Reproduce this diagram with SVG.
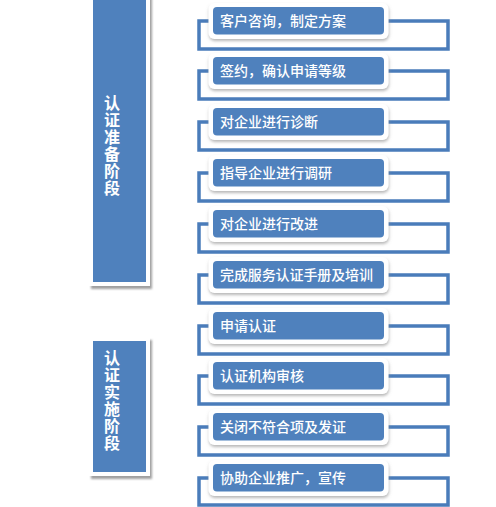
<svg xmlns="http://www.w3.org/2000/svg" width="496" height="507" viewBox="0 0 496 507">
<defs>
<filter id="sh" x="-10%" y="-20%" width="120%" height="150%">
<feDropShadow dx="0.5" dy="2" stdDeviation="1.5" flood-color="#888" flood-opacity="0.6"/>
</filter>
<filter id="shb" x="-20%" y="-10%" width="140%" height="120%">
<feDropShadow dx="2" dy="3" stdDeviation="1.2" flood-color="#777" flood-opacity="0.7"/>
</filter>
</defs>
<style>
.conn{fill:none;stroke:#4a7cba;stroke-width:3.5;stroke-linejoin:miter}
.frame{fill:#fff;filter:url(#sh)}
.box{fill:#4f81bd}
.lbl{fill:#fff;font-family:"Noto Sans CJK SC","Noto Sans",sans-serif;font-size:14px;font-weight:500}
.bar{fill:#4f81bd}
.barframe{fill:#fff;filter:url(#shb)}
.vt{fill:#fff;font-family:"Noto Sans CJK SC",sans-serif;font-size:16px;font-weight:bold;writing-mode:vertical-rl;letter-spacing:1px}
</style>
<rect width="496" height="507" fill="#fff"/>
<g id="stage1">
<rect class="barframe" x="89" y="-6" width="61" height="292"/>
<rect class="bar" x="93" y="-6" width="53" height="288"/>
<text class="vt" x="112" y="95">认证准备阶段</text>
</g>
<g id="stage2">
<rect class="barframe" x="89" y="337" width="61" height="139"/>
<rect class="bar" x="93" y="341" width="53" height="131"/>
<text class="vt" x="112" y="350">认证实施阶段</text>
</g>
<g id="connectors">
<path class="conn" d="M210,21 H199 V49 H448 V21 H388"/>
<path class="conn" d="M210,71 H199 V99 H448 V71 H388"/>
<path class="conn" d="M210,122 H199 V150 H448 V122 H388"/>
<path class="conn" d="M210,173 H199 V201 H448 V173 H388"/>
<path class="conn" d="M210,224 H199 V252 H448 V224 H388"/>
<path class="conn" d="M210,275 H199 V303 H448 V275 H388"/>
<path class="conn" d="M210,326 H199 V354 H448 V326 H388"/>
<path class="conn" d="M210,376 H199 V404 H448 V376 H388"/>
<path class="conn" d="M210,427 H199 V455 H448 V427 H388"/>
<path class="conn" d="M210,478 H199 V505 H448 V478 H388"/>
</g>
<g id="n1"><rect class="frame" x="208.5" y="3" width="180" height="36" rx="6"/><rect class="box" x="213" y="7" width="171" height="27.5" rx="4"/><text class="lbl" x="220" y="26">客户咨询，制定方案</text></g>
<g id="n2"><rect class="frame" x="208.5" y="53" width="180" height="36" rx="6"/><rect class="box" x="213" y="57" width="171" height="27.5" rx="4"/><text class="lbl" x="220" y="76">签约，确认申请等级</text></g>
<g id="n3"><rect class="frame" x="208.5" y="104" width="180" height="36" rx="6"/><rect class="box" x="213" y="108" width="171" height="27.5" rx="4"/><text class="lbl" x="220" y="127">对企业进行诊断</text></g>
<g id="n4"><rect class="frame" x="208.5" y="155" width="180" height="36" rx="6"/><rect class="box" x="213" y="159" width="171" height="27.5" rx="4"/><text class="lbl" x="220" y="178">指导企业进行调研</text></g>
<g id="n5"><rect class="frame" x="208.5" y="206" width="180" height="36" rx="6"/><rect class="box" x="213" y="210" width="171" height="27.5" rx="4"/><text class="lbl" x="220" y="229">对企业进行改进</text></g>
<g id="n6"><rect class="frame" x="208.5" y="257" width="180" height="36" rx="6"/><rect class="box" x="213" y="261" width="171" height="27.5" rx="4"/><text class="lbl" x="220" y="280" textLength="153">完成服务认证手册及培训</text></g>
<g id="n7"><rect class="frame" x="208.5" y="308" width="180" height="36" rx="6"/><rect class="box" x="213" y="312" width="171" height="27.5" rx="4"/><text class="lbl" x="220" y="331">申请认证</text></g>
<g id="n8"><rect class="frame" x="208.5" y="358" width="180" height="36" rx="6"/><rect class="box" x="213" y="362" width="171" height="27.5" rx="4"/><text class="lbl" x="220" y="381">认证机构审核</text></g>
<g id="n9"><rect class="frame" x="208.5" y="409" width="180" height="36" rx="6"/><rect class="box" x="213" y="413" width="171" height="27.5" rx="4"/><text class="lbl" x="220" y="432">关闭不符合项及发证</text></g>
<g id="n10"><rect class="frame" x="208.5" y="460" width="180" height="36" rx="6"/><rect class="box" x="213" y="464" width="171" height="27.5" rx="4"/><text class="lbl" x="220" y="483">协助企业推广，宣传</text></g>
</svg>
